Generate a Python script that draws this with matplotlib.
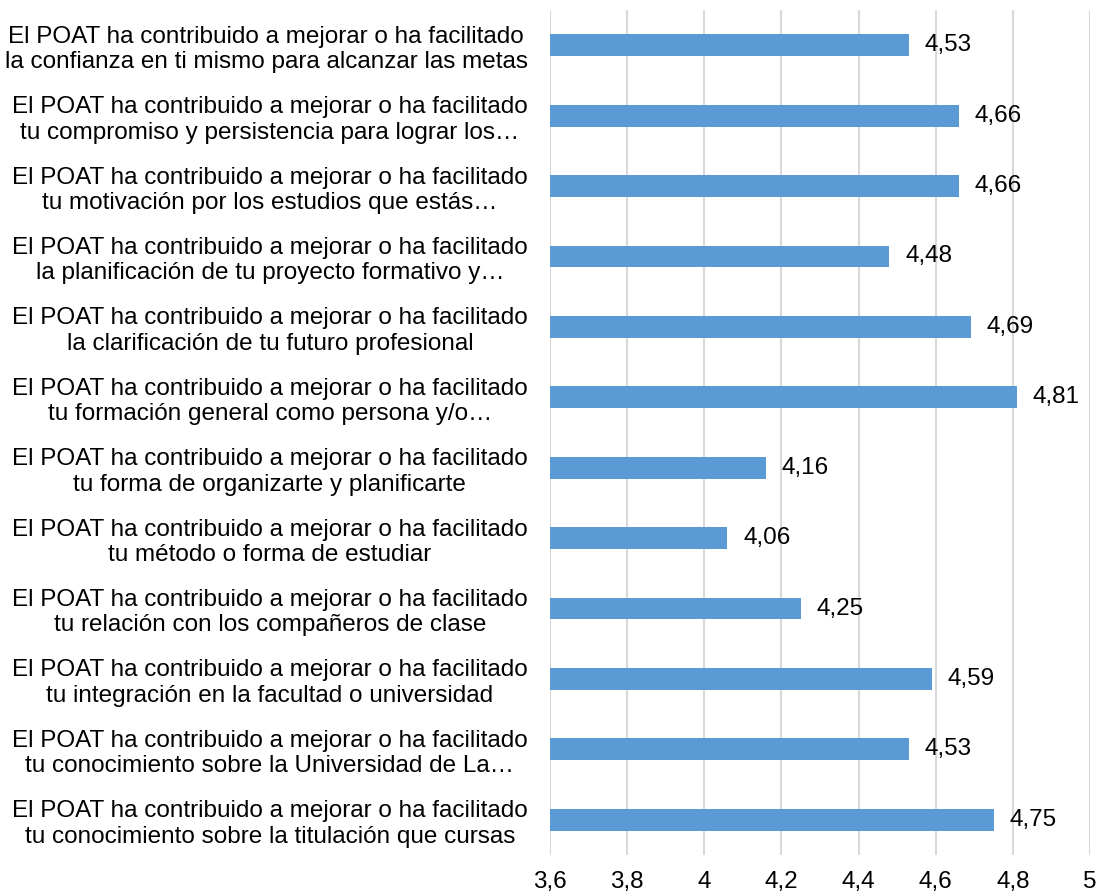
import matplotlib.pyplot as plt
from matplotlib.ticker import FuncFormatter

plt.rcParams['font.family'] = ['Liberation Sans', 'DejaVu Sans']

labels = [
    "El POAT ha contribuido a mejorar o ha facilitado\nla confianza en ti mismo para alcanzar las metas",
    "El POAT ha contribuido a mejorar o ha facilitado\ntu compromiso y persistencia para lograr los\u2026",
    "El POAT ha contribuido a mejorar o ha facilitado\ntu motivaci\u00f3n por los estudios que est\u00e1s\u2026",
    "El POAT ha contribuido a mejorar o ha facilitado\nla planificaci\u00f3n de tu proyecto formativo y\u2026",
    "El POAT ha contribuido a mejorar o ha facilitado\nla clarificaci\u00f3n de tu futuro profesional",
    "El POAT ha contribuido a mejorar o ha facilitado\ntu formaci\u00f3n general como persona y/o\u2026",
    "El POAT ha contribuido a mejorar o ha facilitado\ntu forma de organizarte y planificarte",
    "El POAT ha contribuido a mejorar o ha facilitado\ntu m\u00e9todo o forma de estudiar",
    "El POAT ha contribuido a mejorar o ha facilitado\ntu relaci\u00f3n con los compa\u00f1eros de clase",
    "El POAT ha contribuido a mejorar o ha facilitado\ntu integraci\u00f3n en la facultad o universidad",
    "El POAT ha contribuido a mejorar o ha facilitado\ntu conocimiento sobre la Universidad de La\u2026",
    "El POAT ha contribuido a mejorar o ha facilitado\ntu conocimiento sobre la titulaci\u00f3n que cursas",
]
values = [4.53, 4.66, 4.66, 4.48, 4.69, 4.81, 4.16, 4.06, 4.25, 4.59, 4.53, 4.75]
xticks = [3.6, 3.8, 4.0, 4.2, 4.4, 4.6, 4.8, 5.0]

fs = 17.5

fig = plt.figure(figsize=(11, 8.94), dpi=100)
ax = fig.add_axes([0.5, 0.0436, 0.491, 0.9452])

ypos = list(range(len(values)))
ax.barh(ypos, [v - 3.6 for v in values], left=3.6, height=0.31,
        color='#5B9BD5', zorder=3)
for y, v in zip(ypos, values):
    ax.text(v + 0.041, y, f"{v:.2f}".replace('.', ','), va='center', ha='left',
            fontsize=fs, color='#000000')

ax.set_xlim(3.6, 5.0)
ax.set_ylim(len(values) - 0.5, -0.5)
ax.set_xticks(xticks)
ax.xaxis.set_major_formatter(FuncFormatter(lambda x, p: f"{x:g}".replace('.', ',')))
ax.set_yticks(ypos)
ax.set_yticklabels(labels, fontsize=fs, multialignment='center', linespacing=1.2)
ax.tick_params(axis='x', length=0, pad=23.5, labelsize=fs)
ax.tick_params(axis='y', length=0, pad=16)
for lab in ax.get_xticklabels():
    lab.set_va('baseline')
ax.grid(axis='x', color='#D9D9D9', linewidth=1.5, zorder=0)
for s in ax.spines.values():
    s.set_visible(False)

fig.savefig('out.png', dpi=100)
